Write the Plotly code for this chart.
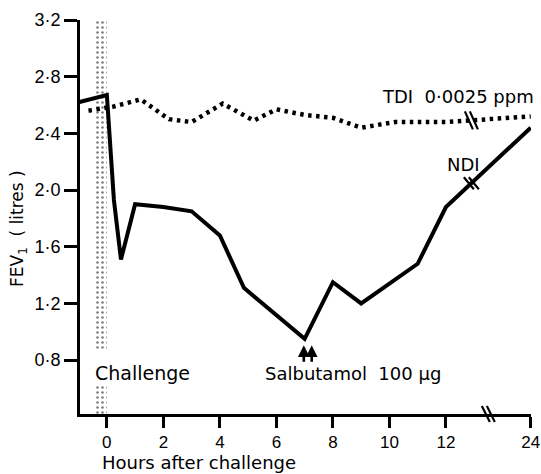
import numpy as np
import plotly.graph_objects as go

# ---------------- data ----------------
ndi_hours = [-1, 0, 0.25, 0.5, 1, 2, 3, 4, 4.85, 6, 7, 8, 9, 11, 12, 24]
ndi_fev = [2.62, 2.67, 1.93, 1.51, 1.90, 1.88, 1.85, 1.68, 1.31, 1.12, 0.95, 1.35, 1.20, 1.48, 1.88, 2.44]

tdi_hours = [-0.65, 0.25, 1.2, 2.2, 3, 4.1, 5.2, 6, 7, 8, 9, 10.2, 12, 24]
tdi_fev = [2.56, 2.59, 2.64, 2.50, 2.48, 2.61, 2.49, 2.57, 2.53, 2.51, 2.44, 2.48, 2.48, 2.52]

x_tick_hours = [0, 2, 4, 6, 8, 10, 12, 24]
x_tick_labels = ["0", "2", "4", "6", "8", "10", "12", "24"]
y_tick_vals = [0.8, 1.2, 1.6, 2.0, 2.4, 2.8, 3.2]
y_tick_labels = ["0·8", "1·2", "1·6", "2·0", "2·4", "2·8", "3·2"]

challenge_start = -0.45
challenge_end = 0.0
salbutamol_hour = 7.0

# ---------------- broken time axis ----------------
def axis_x(h):
    h = np.asarray(h, dtype=float)
    return np.where(h <= 12, h, 12 + (h - 12) * 0.25)

FONT = "Liberation Sans, Arial, sans-serif"
TFONT = "DejaVu Sans, sans-serif"
X_RANGE = [-0.95, 15.01]
Y_RANGE = [0.42, 3.2]
W, H = 541, 474
M = dict(l=80, r=10, t=20, b=60)
PW = W - M["l"] - M["r"]
PH = H - M["t"] - M["b"]

def to_paper(x, y):
    return ((x - X_RANGE[0]) / (X_RANGE[1] - X_RANGE[0]),
            (y - Y_RANGE[0]) / (Y_RANGE[1] - Y_RANGE[0]))

fig = go.Figure()

# challenge band (dotted fill), with a gap for its label
band_mid = float(axis_x((challenge_start + challenge_end) / 2))
band_w = float(axis_x(challenge_end) - axis_x(challenge_start))
band_lo = [0.42, 0.88]
band_hi = [0.62, 3.21]
fig.add_trace(go.Bar(
    x=[band_mid, band_mid], base=band_lo,
    y=[h - l for h, l in zip(band_hi, band_lo)],
    width=band_w,
    marker=dict(color="white", line=dict(width=0),
                pattern=dict(shape=".", size=5, solidity=0.22,
                             fgcolor="black", bgcolor="white")),
    hoverinfo="skip", showlegend=False,
))

# TDI dotted line
fig.add_trace(go.Scatter(
    x=axis_x(tdi_hours), y=tdi_fev, mode="lines",
    line=dict(color="black", width=4.5, dash="3.5px,4.5px"),
    hoverinfo="skip", showlegend=False,
))

# NDI solid line
fig.add_trace(go.Scatter(
    x=axis_x(ndi_hours), y=ndi_fev, mode="lines",
    line=dict(color="black", width=4),
    hoverinfo="skip", showlegend=False,
))

# ---------------- break marks ("\\" strokes, paper coordinates) ----------------
shapes = []
def break_mark(xa, ya, dx, dy, sep, lw=2.2):
    px, py = to_paper(xa, ya)
    for s in (-sep / 2, sep / 2):
        shapes.append(dict(
            type="line", xref="paper", yref="paper",
            x0=px + (s - dx) / PW, x1=px + (s + dx) / PW,
            y0=py + dy / PH, y1=py - dy / PH,
            line=dict(color="black", width=lw),
        ))

line_break_x = 12.9
tdi_break_y = float(np.interp(line_break_x, axis_x(tdi_hours), tdi_fev))
ndi_break_y = float(np.interp(line_break_x, axis_x(ndi_hours), ndi_fev))
break_mark(line_break_x, tdi_break_y, 4, 9, 5)
break_mark(line_break_x, ndi_break_y, 5, 6, 5)
break_mark(13.5, Y_RANGE[0], 4, 8, 5)

# ---------------- text ----------------
ann = []
def label(x, y, text, size=18, xanchor="left", xref="x", yref="y", angle=0):
    ann.append(dict(x=x, y=y, xref=xref, yref=yref, text=text, showarrow=False,
                    xanchor=xanchor, yanchor="middle", textangle=angle,
                    font=dict(family=TFONT, size=size, color="black")))

label(9.66, 2.657, "TDI&nbsp;&nbsp;0·0025 ppm")
label(11.96, 2.177, "NDI")
label(-0.49, 0.709, "Challenge", size=19)
label(5.52, 0.709, "Salbutamol&nbsp;&nbsp;100&nbsp;µg")
label(-0.135, 0.47, "FEV<sub>1</sub>&nbsp;&nbsp;( litres )", size=17, xanchor="center",
      xref="paper", yref="paper", angle=-90)
label(0.044, -0.1225, "Hours after challenge", size=18, xref="paper", yref="paper")

for dxh in (-0.03, 0.25):
    ann.append(dict(x=float(axis_x(salbutamol_hour + dxh)), y=0.905, xref="x", yref="y",
                    ax=0, ay=18, axref="pixel", ayref="pixel", text="",
                    showarrow=True, arrowhead=2, arrowsize=0.9, arrowwidth=2.6,
                    arrowcolor="black"))

fig.update_layout(
    width=W, height=H,
    margin=M,
    plot_bgcolor="white", paper_bgcolor="white",
    barmode="overlay", showlegend=False,
    shapes=shapes, annotations=ann,
    font=dict(family=FONT, size=18, color="black"),
    xaxis=dict(range=X_RANGE, tickmode="array", automargin=False,
               tickvals=[float(v) for v in axis_x(x_tick_hours)], ticktext=x_tick_labels,
               ticks="outside", ticklen=11, tickwidth=2.5, tickcolor="black",
               tickfont=dict(family=FONT, size=17, color="black"),
               showline=True, linewidth=3, linecolor="black",
               showgrid=False, zeroline=False, fixedrange=True),
    yaxis=dict(range=Y_RANGE, tickmode="array", automargin=False,
               tickvals=y_tick_vals, ticktext=y_tick_labels,
               ticks="outside", ticklen=13, tickwidth=2.5, tickcolor="black",
               tickfont=dict(family=FONT, size=18, color="black"),
               showline=True, linewidth=3, linecolor="black",
               showgrid=False, zeroline=False, fixedrange=True),
)

fig.write_html("out.html", config={"displayModeBar": False},
               post_script="document.body.style.margin='0';document.body.style.overflow='hidden';")
